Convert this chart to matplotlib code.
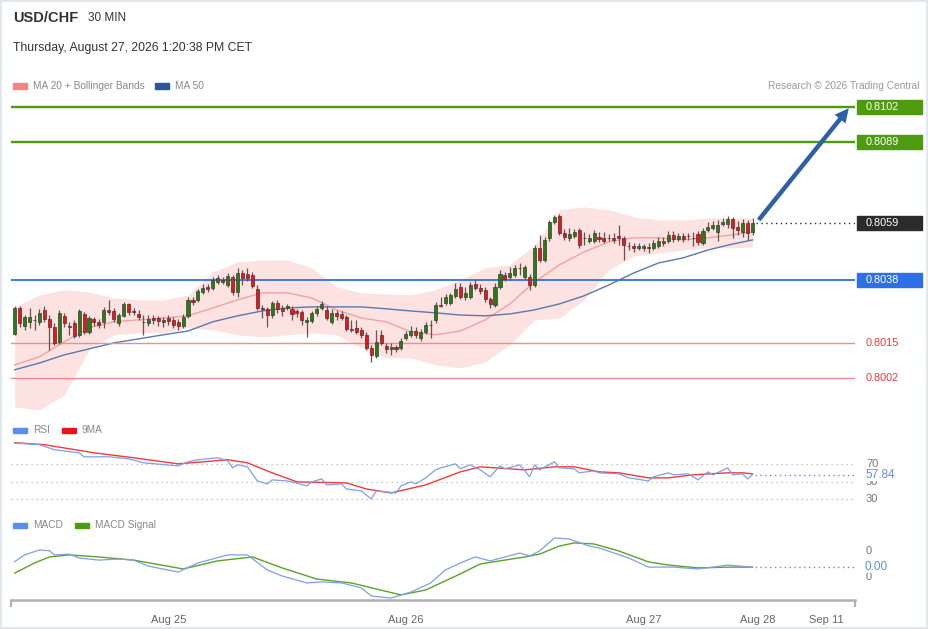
import matplotlib
matplotlib.use('Agg')
import matplotlib.pyplot as plt
import matplotlib.transforms as mtransforms
from matplotlib.patches import Rectangle, FancyArrowPatch
import numpy as np

plt.rcParams['font.family'] = ['Liberation Sans', 'DejaVu Sans']

# ---- 30 min candles, Aug 24 08:30 -> Aug 27 11:00 ----
opens = [0.80182, 0.80278, 0.80212, 0.80227, 0.80234, 0.80227, 0.80271, 0.80238, 0.80208, 0.80153,
         0.80249, 0.80212, 0.80223, 0.80179, 0.80256, 0.80190, 0.80238, 0.80227, 0.80227, 0.80271,
         0.80267, 0.80223, 0.80249, 0.80293, 0.80267, 0.80256, 0.80227, 0.80223, 0.80241, 0.80241,
         0.80227, 0.80241, 0.80234, 0.80227, 0.80212, 0.80249, 0.80308, 0.80308, 0.80337, 0.80356,
         0.80352, 0.80374, 0.80382, 0.80363, 0.80393, 0.80337, 0.80407, 0.80404, 0.80400, 0.80348,
         0.80278, 0.80275, 0.80252, 0.80297, 0.80278, 0.80278, 0.80275, 0.80267, 0.80264, 0.80227,
         0.80230, 0.80260, 0.80278, 0.80271, 0.80227, 0.80260, 0.80256, 0.80245, 0.80199, 0.80205,
         0.80197, 0.80179, 0.80131, 0.80101, 0.80179, 0.80138, 0.80127, 0.80134, 0.80131, 0.80168,
         0.80179, 0.80193, 0.80168, 0.80190, 0.80216, 0.80234, 0.80289, 0.80297, 0.80297, 0.80323,
         0.80356, 0.80319, 0.80319, 0.80367, 0.80352, 0.80345, 0.80312, 0.80289, 0.80356, 0.80400,
         0.80393, 0.80400, 0.80426, 0.80393, 0.80393, 0.80363, 0.80500, 0.80455, 0.80537, 0.80596,
         0.80618, 0.80555, 0.80537, 0.80544, 0.80566, 0.80537, 0.80526, 0.80526, 0.80540, 0.80537,
         0.80537, 0.80537, 0.80544, 0.80537, 0.80507, 0.80507, 0.80500, 0.80500, 0.80503, 0.80500,
         0.80507, 0.80526, 0.80526, 0.80548, 0.80533, 0.80544, 0.80544, 0.80537, 0.80551, 0.80518,
         0.80566, 0.80574, 0.80559, 0.80588, 0.80588, 0.80607, 0.80577, 0.80559, 0.80592, 0.80559]

highs = [0.80286, 0.80286, 0.80252, 0.80278, 0.80252, 0.80275, 0.80286, 0.80252, 0.80223, 0.80271,
         0.80260, 0.80227, 0.80234, 0.80275, 0.80264, 0.80249, 0.80245, 0.80238, 0.80282, 0.80308,
         0.80278, 0.80260, 0.80300, 0.80297, 0.80278, 0.80271, 0.80252, 0.80252, 0.80252, 0.80249,
         0.80245, 0.80252, 0.80245, 0.80238, 0.80256, 0.80319, 0.80319, 0.80348, 0.80367, 0.80367,
         0.80393, 0.80400, 0.80393, 0.80407, 0.80400, 0.80426, 0.80419, 0.80426, 0.80411, 0.80363,
         0.80289, 0.80282, 0.80304, 0.80308, 0.80289, 0.80293, 0.80286, 0.80275, 0.80271, 0.80245,
         0.80267, 0.80286, 0.80304, 0.80286, 0.80275, 0.80271, 0.80267, 0.80252, 0.80234, 0.80234,
         0.80208, 0.80190, 0.80142, 0.80197, 0.80197, 0.80149, 0.80149, 0.80142, 0.80168, 0.80193,
         0.80212, 0.80208, 0.80201, 0.80227, 0.80234, 0.80300, 0.80319, 0.80330, 0.80334, 0.80371,
         0.80371, 0.80356, 0.80374, 0.80382, 0.80367, 0.80356, 0.80319, 0.80371, 0.80419, 0.80411,
         0.80430, 0.80437, 0.80444, 0.80437, 0.80404, 0.80511, 0.80548, 0.80540, 0.80603, 0.80621,
         0.80625, 0.80570, 0.80574, 0.80570, 0.80574, 0.80559, 0.80551, 0.80566, 0.80559, 0.80559,
         0.80551, 0.80555, 0.80585, 0.80544, 0.80522, 0.80518, 0.80518, 0.80514, 0.80518, 0.80529,
         0.80540, 0.80540, 0.80562, 0.80562, 0.80555, 0.80555, 0.80555, 0.80559, 0.80562, 0.80574,
         0.80596, 0.80599, 0.80603, 0.80610, 0.80618, 0.80614, 0.80599, 0.80607, 0.80603, 0.80610]

lows = [0.80179, 0.80208, 0.80197, 0.80205, 0.80197, 0.80216, 0.80227, 0.80123, 0.80142, 0.80145,
        0.80208, 0.80179, 0.80168, 0.80171, 0.80182, 0.80182, 0.80212, 0.80205, 0.80205, 0.80252,
        0.80227, 0.80212, 0.80245, 0.80252, 0.80252, 0.80234, 0.80179, 0.80212, 0.80219, 0.80212,
        0.80208, 0.80216, 0.80205, 0.80197, 0.80205, 0.80241, 0.80289, 0.80300, 0.80330, 0.80337,
        0.80345, 0.80367, 0.80367, 0.80356, 0.80326, 0.80319, 0.80363, 0.80378, 0.80352, 0.80271,
        0.80241, 0.80208, 0.80241, 0.80260, 0.80249, 0.80271, 0.80234, 0.80245, 0.80216, 0.80171,
        0.80223, 0.80249, 0.80271, 0.80234, 0.80219, 0.80234, 0.80234, 0.80193, 0.80190, 0.80182,
        0.80168, 0.80123, 0.80079, 0.80094, 0.80142, 0.80112, 0.80105, 0.80116, 0.80123, 0.80160,
        0.80171, 0.80168, 0.80157, 0.80182, 0.80168, 0.80223, 0.80282, 0.80289, 0.80289, 0.80315,
        0.80312, 0.80308, 0.80312, 0.80345, 0.80330, 0.80300, 0.80278, 0.80282, 0.80348, 0.80378,
        0.80382, 0.80393, 0.80400, 0.80385, 0.80345, 0.80356, 0.80448, 0.80448, 0.80526, 0.80588,
        0.80548, 0.80529, 0.80526, 0.80537, 0.80500, 0.80511, 0.80518, 0.80518, 0.80522, 0.80518,
        0.80526, 0.80518, 0.80511, 0.80455, 0.80492, 0.80485, 0.80492, 0.80489, 0.80481, 0.80492,
        0.80500, 0.80507, 0.80518, 0.80522, 0.80526, 0.80522, 0.80529, 0.80507, 0.80511, 0.80511,
        0.80559, 0.80566, 0.80526, 0.80581, 0.80574, 0.80537, 0.80548, 0.80540, 0.80529, 0.80548]

closes = [0.80278, 0.80223, 0.80245, 0.80245, 0.80232, 0.80260, 0.80238, 0.80208, 0.80149, 0.80260,
          0.80223, 0.80208, 0.80175, 0.80267, 0.80190, 0.80241, 0.80227, 0.80216, 0.80271, 0.80264,
          0.80238, 0.80252, 0.80293, 0.80264, 0.80265, 0.80245, 0.80225, 0.80238, 0.80234, 0.80230,
          0.80234, 0.80230, 0.80216, 0.80212, 0.80245, 0.80308, 0.80300, 0.80341, 0.80352, 0.80348,
          0.80382, 0.80389, 0.80374, 0.80396, 0.80337, 0.80407, 0.80389, 0.80389, 0.80359, 0.80278,
          0.80276, 0.80252, 0.80297, 0.80275, 0.80267, 0.80286, 0.80256, 0.80260, 0.80234, 0.80234,
          0.80260, 0.80275, 0.80293, 0.80241, 0.80260, 0.80249, 0.80241, 0.80201, 0.80197, 0.80190,
          0.80179, 0.80131, 0.80105, 0.80153, 0.80149, 0.80127, 0.80134, 0.80127, 0.80157, 0.80182,
          0.80193, 0.80179, 0.80190, 0.80216, 0.80214, 0.80289, 0.80287, 0.80319, 0.80326, 0.80348,
          0.80319, 0.80334, 0.80363, 0.80352, 0.80341, 0.80312, 0.80293, 0.80356, 0.80404, 0.80385,
          0.80407, 0.80426, 0.80424, 0.80430, 0.80363, 0.80500, 0.80455, 0.80529, 0.80596, 0.80614,
          0.80555, 0.80540, 0.80551, 0.80559, 0.80511, 0.80535, 0.80537, 0.80555, 0.80533, 0.80526,
          0.80535, 0.80529, 0.80537, 0.80511, 0.80505, 0.80500, 0.80507, 0.80507, 0.80500, 0.80518,
          0.80526, 0.80518, 0.80548, 0.80533, 0.80544, 0.80533, 0.80542, 0.80535, 0.80522, 0.80562,
          0.80577, 0.80585, 0.80585, 0.80596, 0.80607, 0.80574, 0.80566, 0.80592, 0.80555, 0.80592]

# ---- MA20 + Bollinger bands and MA50, read every 5 candles ----
band_idx = [0, 5, 10, 15, 20, 25, 30, 35, 40, 45, 50, 55, 60, 65, 70, 75, 80, 85, 90, 95,
            100, 105, 110, 115, 120, 125, 130, 135, 140, 145, 149]
bb_upper = [0.80282, 0.80326, 0.80345, 0.80337, 0.80315, 0.80308, 0.80308, 0.80326, 0.80411, 0.80448,
            0.80455, 0.80455, 0.80426, 0.80356, 0.80334, 0.80330, 0.80326, 0.80345, 0.80382, 0.80426,
            0.80437, 0.80511, 0.80640, 0.80651, 0.80640, 0.80614, 0.80603, 0.80603, 0.80610, 0.80610, 0.80610]
ma20 = [0.80068, 0.80098, 0.80153, 0.80205, 0.80227, 0.80234, 0.80241, 0.80249, 0.80278, 0.80308,
        0.80334, 0.80334, 0.80315, 0.80271, 0.80241, 0.80227, 0.80190, 0.80179, 0.80193, 0.80234,
        0.80293, 0.80374, 0.80437, 0.80485, 0.80522, 0.80537, 0.80537, 0.80529, 0.80537, 0.80548, 0.80559]
bb_lower = [0.79913, 0.79902, 0.79957, 0.80123, 0.80179, 0.80186, 0.80186, 0.80205, 0.80197, 0.80179,
            0.80171, 0.80179, 0.80186, 0.80179, 0.80131, 0.80094, 0.80094, 0.80068, 0.80057, 0.80079,
            0.80142, 0.80234, 0.80241, 0.80308, 0.80419, 0.80470, 0.80481, 0.80492, 0.80500, 0.80500, 0.80503]
ma50 = [0.80050, 0.80075, 0.80105, 0.80127, 0.80149, 0.80164, 0.80179, 0.80193, 0.80227, 0.80249,
        0.80267, 0.80278, 0.80282, 0.80282, 0.80282, 0.80275, 0.80267, 0.80260, 0.80252, 0.80249,
        0.80256, 0.80271, 0.80293, 0.80323, 0.80363, 0.80407, 0.80444, 0.80463, 0.80492, 0.80514, 0.80529]

# ---- key levels ----
level_values = [0.8102, 0.8089, 0.8059, 0.8038, 0.8015, 0.8002]
level_colors = ['#4f9b0f', '#4f9b0f', '#2b2b2b', '#2f6fe6', '#e8393a', '#e8393a']
level_boxed = [True, True, True, True, False, False]
target_level = 0.8102

# ---- RSI and its 9MA ----
rsi_idx = [0, 5, 8, 13, 14, 19, 23, 26, 33, 35, 37, 41, 43, 44, 45, 47, 49, 51, 52, 55,
           56, 59, 60, 62, 63, 66, 67, 70, 72, 73, 77, 78, 80, 81, 83, 85, 86, 89, 90, 92,
           94, 96, 98, 99, 102, 104, 105, 106, 109, 110, 113, 114, 117, 118, 122, 124, 128, 129, 132, 133,
           136, 138, 140, 141, 144, 145, 147, 148, 149]
rsi_val = [94.2, 92.3, 86.5, 83.0, 78.4, 78.4, 76.1, 71.5, 68.0, 72.7, 75.0, 77.3, 73.8, 65.7, 69.2, 66.9, 50.7, 47.3, 51.9, 50.7,
           49.6, 45.0, 49.6, 53.0, 46.1, 47.3, 41.5, 39.2, 30.0, 39.2, 36.9, 45.0, 49.6, 47.3, 54.2, 63.4, 65.7, 70.3, 64.6, 69.2,
           63.4, 55.4, 68.0, 64.6, 69.2, 55.4, 69.2, 63.4, 72.7, 65.7, 64.6, 60.0, 62.3, 60.0, 58.8, 54.2, 50.7, 55.4, 60.0, 57.7,
           58.8, 51.9, 61.1, 57.7, 65.7, 57.7, 58.8, 53.0, 57.84]
ma9_idx = [0, 6, 16, 24, 33, 43, 47, 52, 57, 67, 71, 76, 83, 90, 94, 103, 109, 113, 118, 122,
           128, 132, 137, 144, 147, 149]
ma9_val = [94.6, 92.3, 83.0, 77.3, 70.3, 75.0, 71.5, 60.0, 49.6, 48.4, 41.5, 36.9, 46.1, 61.1, 66.9, 63.4, 66.9, 66.9, 61.1, 60.0,
           54.2, 54.2, 57.7, 60.0, 60.0, 58.8]
rsi_levels = [70, 50, 30]

# ---- MACD ----
macd_idx = [0, 2, 5, 7, 8, 11, 13, 17, 21, 24, 27, 33, 37, 43, 47, 51, 54, 59, 62, 66,
            70, 72, 76, 80, 84, 87, 90, 93, 96, 99, 102, 104, 106, 109, 112, 116, 118, 124, 128, 133,
            138, 141, 144, 149]
macd_val = [0.00009, 0.00035, 0.00054, 0.00051, 0.00035, 0.00038, 0.00023, 0.00015, 0.00019, 0.00015,
            -0.00008, -0.00031, 0.00004, 0.00035, 0.00035, -0.00023, -0.00046, -0.00073, -0.00069, -0.00073,
            -0.00092, -0.00123, -0.00131, -0.00108, -0.00073, -0.00023, 0.00004, 0.00027, 0.00012, 0.00027,
            0.00042, 0.00031, 0.00050, 0.00100, 0.00096, 0.00069, 0.00062, 0.00023, -0.00012, -0.00012,
            -0.00019, -0.00012, -0.00004, -0.00012]
sig_idx = [0, 4, 7, 11, 17, 24, 34, 41, 48, 54, 61, 68, 78, 83, 90, 94, 98, 103, 106, 110,
           113, 117, 122, 128, 132, 138, 144, 149]
sig_val = [-0.00035, 0.00004, 0.00027, 0.00035, 0.00027, 0.00015, -0.00019, 0.00012, 0.00027, -0.00015,
           -0.00058, -0.00073, -0.00119, -0.00100, -0.00038, 0.00000, 0.00012, 0.00027, 0.00038, 0.00069,
           0.00081, 0.00077, 0.00050, 0.00008, -0.00004, -0.00015, -0.00012, -0.00012]
macd_ticks = [0.0005, -0.0005]

# ---- time axis ----
tick_labels = ['Aug 25', 'Aug 26', 'Aug 27', 'Aug 28', 'Sep 11']
tick_pos = [31, 79, 127, 150, 164]

# figure in pixel terms
W, H = 929, 629
fig = plt.figure(figsize=(W / 100, H / 100), dpi=100)
fig.patch.set_facecolor('white')


def fx(px):
    return px / W


def fy(py):
    return 1 - py / H


left, right = 11, 855
ax = fig.add_axes([fx(left), fy(418), fx(right - left), (418 - 92) / H])
ax_rsi = fig.add_axes([fx(left), fy(510), fx(right - left), 70 / H], sharex=ax)
ax_macd = fig.add_axes([fx(left), fy(600), fx(right - left), 65 / H], sharex=ax)

x0, x1 = -0.75, 169.7
for a in (ax, ax_rsi, ax_macd):
    a.set_facecolor('none')
    for s in a.spines.values():
        s.set_visible(False)
    a.tick_params(which='both', left=False, bottom=False, labelleft=False, labelbottom=False)
ax.set_xlim(x0, x1)
ax.set_ylim(0.79872, 0.81075)

# bollinger + moving averages
ax.fill_between(band_idx, bb_lower, bb_upper, color='#fde2e2', lw=0, zorder=1)
ax.plot(band_idx, ma20, color='#f4a1a1', lw=1.0, zorder=2)
ax.plot(band_idx, ma50, color='#5a78aa', lw=1.0, zorder=2)

# candles
o = np.array(opens)
h = np.array(highs)
l = np.array(lows)
c = np.array(closes)
idx = np.arange(len(c))
rising = c >= o
body_low = np.minimum(o, c)
body_h = np.maximum(np.abs(c - o), 0.000015)
ax.vlines(idx, l, h, color='#6a5252', lw=0.9, zorder=3)
ax.bar(idx[rising], body_h[rising], bottom=body_low[rising], width=0.62,
       color='#2b7a16', edgecolor='#34402f', lw=0.5, zorder=4)
ax.bar(idx[~rising], body_h[~rising], bottom=body_low[~rising], width=0.62,
       color='#e3171c', edgecolor='#5a2a2a', lw=0.5, zorder=4)

# key levels with right-hand labels
trans = mtransforms.blended_transform_factory(ax.transAxes, ax.transData)
box_w = 65 / (right - left)
box_h = 14 / 27100
for lvl, col, boxed in zip(level_values, level_colors, level_boxed):
    if lvl == level_values[2]:
        ax.hlines(lvl, idx[-1] + 0.8, x1, color=col, lw=1.0, linestyles=(0, (1, 2.5)), zorder=2)
    else:
        lw = 1.7 if col == '#4f9b0f' else (1.3 if boxed else 1.0)
        line_col = col if boxed else '#f28b8b'
        ax.axhline(lvl, color=line_col, lw=lw, zorder=2)
    if boxed:
        ax.add_patch(Rectangle((1 + 2 / (right - left), lvl - box_h / 2), box_w, box_h,
                               transform=trans, color=col, clip_on=False, zorder=5))
        ax.text(1 + 11 / (right - left), lvl, f'{lvl:.4f}', transform=trans, color='white',
                fontsize=7.8, va='center', ha='left', zorder=6)
    else:
        ax.text(1 + 11 / (right - left), lvl, f'{lvl:.4f}', transform=trans, color=col,
                fontsize=7.8, va='center', ha='left')

# target arrow
arrow = FancyArrowPatch((idx[-1] + 0.9, closes[-1] + 0.00003), (x1 - 0.9, target_level + 0.00003),
                        arrowstyle='simple,head_width=1.0,head_length=1.0,tail_width=0.32',
                        mutation_scale=10, color='#2f5fa7', lw=0, zorder=6, clip_on=False)
ax.add_patch(arrow)

# RSI panel
ax_rsi.set_ylim(17.3, 97.7)
for v in rsi_levels:
    ax_rsi.axhline(v, color='#b5b5b5', lw=0.9, linestyle=(0, (1, 3)))
ax_rsi.plot(ma9_idx, ma9_val, color='#f0393a', lw=1.0, zorder=3)
ax_rsi.plot(rsi_idx, rsi_val, color='#7f9fe6', lw=0.9, zorder=4)
ax_rsi.hlines(rsi_val[-1], rsi_idx[-1] + 0.5, x1, color='#5b8def', lw=1.0, linestyles=(0, (1, 2.5)))
rtrans = mtransforms.blended_transform_factory(ax_rsi.transAxes, ax_rsi.transData)
for v in rsi_levels:
    ax_rsi.text(1 + 11 / (right - left), v, str(v), transform=rtrans, color='#777777',
                fontsize=8, va='center', ha='left')
ax_rsi.text(1 + 10 / (right - left), rsi_val[-1], f'{rsi_val[-1]:.2f}', transform=rtrans,
            color='#5b8def', fontsize=8.5, va='center', ha='left',
            bbox=dict(facecolor='white', edgecolor='none', pad=0.2))

# MACD panel
ax_macd.set_ylim(-0.001385, 0.001115)
ax_macd.plot(sig_idx, sig_val, color='#5aa22c', lw=1.0, zorder=3)
ax_macd.plot(macd_idx, macd_val, color='#7f9fe6', lw=0.9, zorder=4)
ax_macd.hlines(macd_val[-1], macd_idx[-1] + 0.5, x1, color='#5b8def', lw=1.0, linestyles=(0, (1, 2.5)))
mtrans = mtransforms.blended_transform_factory(ax_macd.transAxes, ax_macd.transData)
for v in macd_ticks:
    ax_macd.text(1 + 11 / (right - left), v, f'{abs(v):.0f}', transform=mtrans, color='#777777',
                 fontsize=8, va='center', ha='left')
ax_macd.text(1 + 10 / (right - left), macd_val[-1], f'{abs(macd_val[-1]):.2f}', transform=mtrans,
             color='#5b8def', fontsize=8.5, va='center', ha='left',
             bbox=dict(facecolor='white', edgecolor='none', pad=0.2))

# time axis
ax_macd.spines['bottom'].set_visible(True)
ax_macd.spines['bottom'].set_color('#b0b0b0')
ax_macd.spines['bottom'].set_linewidth(1.8)
ax_macd.set_xticks(tick_pos)
ax_macd.set_xticklabels(tick_labels)
ax_macd.set_xticks([x0, x1], minor=True)
ax_macd.tick_params(axis='x', which='major', bottom=False, labelbottom=True, pad=7,
                    labelsize=8, labelcolor='#666666')
ax_macd.tick_params(axis='x', which='minor', bottom=True, length=5, width=1.6, color='#b0b0b0')

# header texts
fig.text(fx(13), fy(18), 'USD/CHF', fontsize=10.5, fontweight='bold', color='#333333', va='center')
fig.text(fx(88), fy(18), '30 MIN', fontsize=8.5, color='#333333', va='center')
fig.text(fx(13), fy(48), 'Thursday, August 27, 2026 1:20:38 PM CET', fontsize=8.8,
         color='#333333', va='center')
fig.text(fx(920), fy(86), 'Research \u00a9 2026 Trading Central', fontsize=7.3,
         color='#9a9a9a', va='center', ha='right')


def legend_item(x, y, color, label, width=14):
    fig.add_artist(Rectangle((fx(x), fy(y + 2.5)), width / W, 5 / H, color=color,
                             transform=fig.transFigure))
    fig.text(fx(x + width + 6), fy(y), label, fontsize=7.3, color='#888888', va='center')


legend_item(13, 86, '#f88383', 'MA 20 + Bollinger Bands')
legend_item(155, 86, '#2e5597', 'MA 50')
legend_item(13, 430, '#5b8def', 'RSI')
legend_item(62, 430, '#e8141a', '9MA')
legend_item(13, 525, '#5b8def', 'MACD')
legend_item(75, 525, '#4f9b0f', 'MACD Signal')

# light frame around the whole picture
fig.add_artist(Rectangle((0.001, 0.001), 0.997, 0.997, fill=False, edgecolor='#e2e8ee',
                         lw=1.5, transform=fig.transFigure))

fig.savefig('out.png', dpi=100)
